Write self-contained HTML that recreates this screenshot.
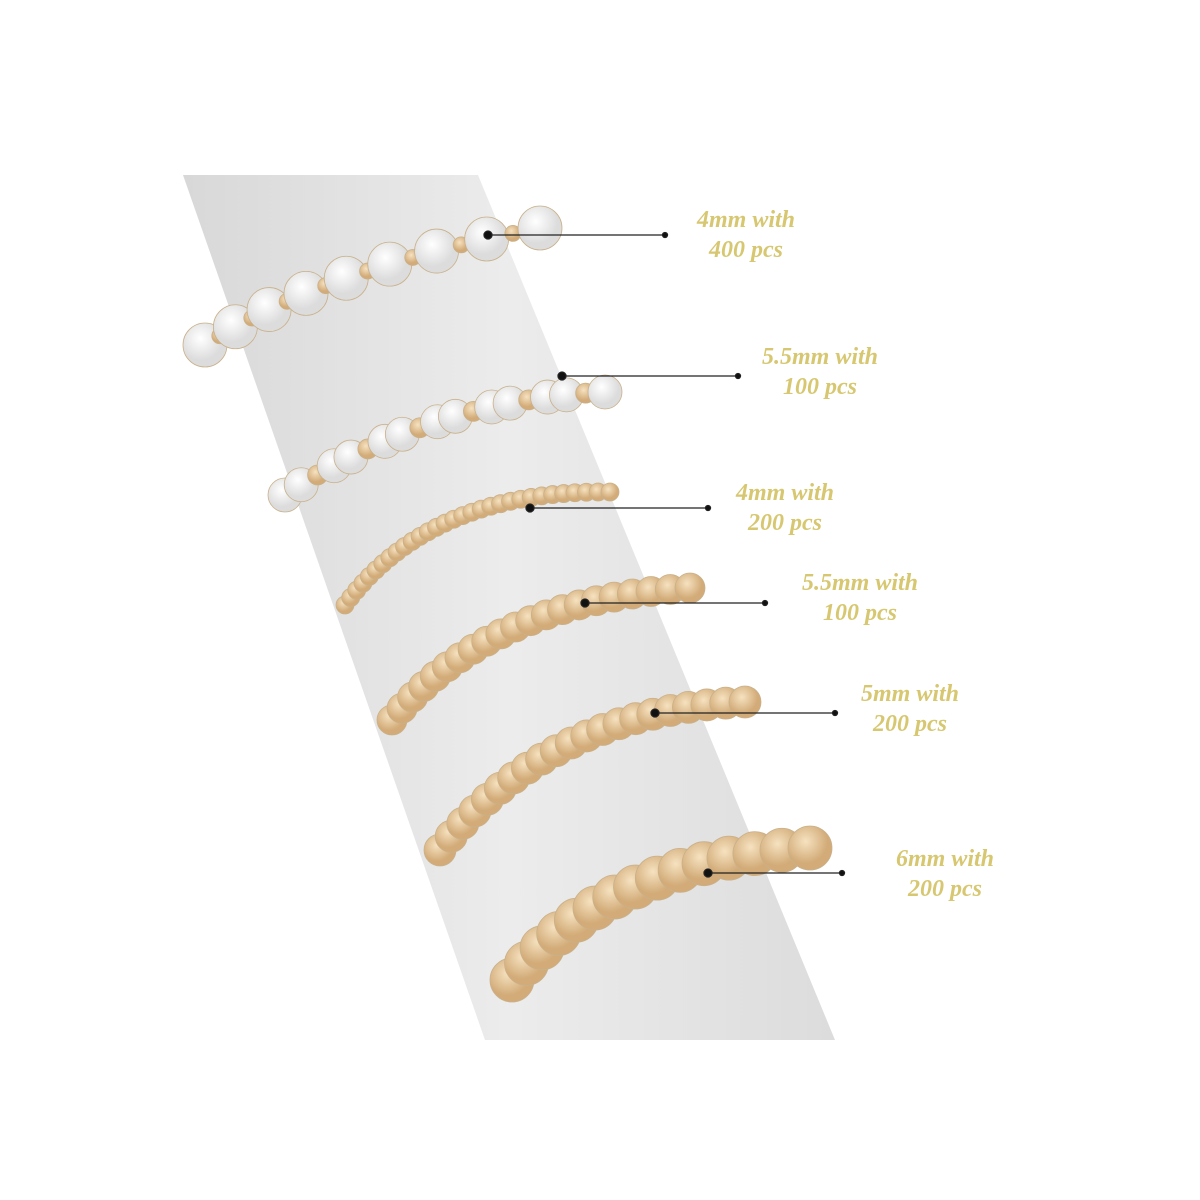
<!DOCTYPE html>
<html><head><meta charset="utf-8"><style>
html,body{margin:0;padding:0;background:#fff;width:1200px;height:1200px;overflow:hidden}
.l{font-family:"Liberation Serif",serif;font-weight:bold;font-style:italic;font-size:24px;fill:#d6c770}
</style></head><body>
<svg id="s" width="1200" height="1200" xmlns="http://www.w3.org/2000/svg">
<defs>
<linearGradient id="g" x1="0" x2="1" y1="0" y2="0">
<stop offset="0" stop-color="#d8d8d8"/><stop offset="0.5" stop-color="#ececec"/><stop offset="1" stop-color="#dcdcdc"/></linearGradient>
<radialGradient id="gold" cx="0.4" cy="0.35"><stop offset="0" stop-color="#f6e2c0"/><stop offset="1" stop-color="#d2ab78"/></radialGradient>
<radialGradient id="pearl" cx="0.4" cy="0.35"><stop offset="0" stop-color="#ffffff"/><stop offset="1" stop-color="#dcdcdc"/></radialGradient>
</defs>
<polygon points="183,175 478,175 835,1040 485,1040" fill="url(#g)"/>
<g id="beads"></g>
<g stroke="#222" stroke-width="1.3" fill="#111">
<line x1="488" y1="235" x2="665" y2="235"/><circle cx="488" cy="235" r="4"/><circle cx="665" cy="235" r="2.5"/>
<line x1="562" y1="376" x2="738" y2="376"/><circle cx="562" cy="376" r="4"/><circle cx="738" cy="376" r="2.5"/>
<line x1="530" y1="508" x2="708" y2="508"/><circle cx="530" cy="508" r="4"/><circle cx="708" cy="508" r="2.5"/>
<line x1="585" y1="603" x2="765" y2="603"/><circle cx="585" cy="603" r="4"/><circle cx="765" cy="603" r="2.5"/>
<line x1="655" y1="713" x2="835" y2="713"/><circle cx="655" cy="713" r="4"/><circle cx="835" cy="713" r="2.5"/>
<line x1="708" y1="873" x2="842" y2="873"/><circle cx="708" cy="873" r="4"/><circle cx="842" cy="873" r="2.5"/>
</g>
<g class="l" text-anchor="middle">
<text x="746" y="227">4mm with</text><text x="746" y="257">400 pcs</text>
<text x="820" y="364">5.5mm with</text><text x="820" y="394">100 pcs</text>
<text x="785" y="500">4mm with</text><text x="785" y="530">200 pcs</text>
<text x="860" y="590">5.5mm with</text><text x="860" y="620">100 pcs</text>
<text x="910" y="701">5mm with</text><text x="910" y="731">200 pcs</text>
<text x="945" y="866">6mm with</text><text x="945" y="896">200 pcs</text>
</g>
</svg>
<script>
var g=document.getElementById('beads'),ns='http://www.w3.org/2000/svg';
function c(x,y,r,f){var e=document.createElementNS(ns,'circle');e.setAttribute('cx',x);e.setAttribute('cy',y);e.setAttribute('r',r);e.setAttribute('fill',f);e.setAttribute('stroke','#c9b18a');e.setAttribute('stroke-width','0.8');g.appendChild(e);}
function q(p0,p1,p2,n,fn){for(var i=0;i<=n;i++){var t=i/n,a=(1-t)*(1-t),b=2*(1-t)*t,d=t*t;fn(a*p0[0]+b*p1[0]+d*p2[0],a*p0[1]+b*p1[1]+d*p2[1],i);}}
q([205,345],[320,270],[540,228],16,function(x,y,i){if(i%2==0)c(x,y,22,'url(#pearl)');else c(x,y,8,'url(#gold)');});
q([285,495],[430,400],[605,392],18,function(x,y,i){if(i%3==2)c(x,y,10,'url(#gold)');else c(x,y,17,'url(#pearl)');});
q([345,605],[430,490],[610,492],30,function(x,y){c(x,y,9,'url(#gold)');});
q([392,720],[490,600],[690,588],20,function(x,y){c(x,y,15,'url(#gold)');});
q([440,850],[550,710],[745,702],20,function(x,y){c(x,y,16,'url(#gold)');});
q([512,980],[610,860],[810,848],14,function(x,y){c(x,y,22,'url(#gold)');});
</script>
</body></html>
